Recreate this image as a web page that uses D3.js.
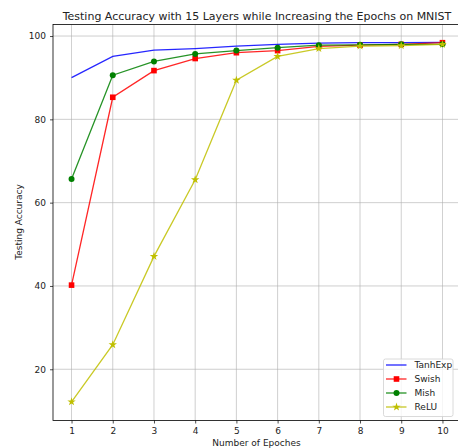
<!DOCTYPE html>
<html><head><meta charset="utf-8">
<script src="https://cdn.jsdelivr.net/npm/d3@7"></script>
<style>body{margin:0;background:#fff}svg{display:block;font-family:"DejaVu Sans",sans-serif}</style>
</head><body><svg id="c" width="458" height="448"></svg>
<script>
const epochs = [1,2,3,4,5,6,7,8,9,10];
const tanhExp = [90.0,95.1,96.6,97.0,97.6,98.0,98.3,98.4,98.4,98.5];
const swish   = [40.2,85.3,91.7,94.6,96.0,96.5,97.5,97.8,98.0,98.4];
const mish    = [65.7,90.6,93.9,95.7,96.5,97.2,97.8,97.9,98.0,98.0];
const relu    = [12.2,25.9,47.1,65.5,89.4,95.1,97.0,97.6,97.7,98.0];
const yTicks = [20,40,60,80,100];
const seriesNames = ["TanhExp","Swish","Mish","ReLU"];
const seriesColors = ["#0000ff","#ff0000","#008000","#bfbf00"];
const seriesMarkers = ["none","square","circle","star"];
const seriesData = [tanhExp, swish, mish, relu];

const svg = d3.select("#c");
const L = 53, R = 461, T = 24.5, B = 420.5;
const x = d3.scaleLinear().domain([0.55,10.45]).range([L,R]);
const y = d3.scaleLinear().domain([7.7,102.77]).range([B,T]);

function fitSize(str, target){
  const t = svg.append("text").attr("font-size",10).text(str);
  const w = t.node().getComputedTextLength();
  t.remove();
  return 10*target/w;
}
const TFS = fitSize("Testing Accuracy with 15 Layers while Increasing the Epochs on MNIST", 389);
const FS = fitSize("Number of Epoches", 88.4);

// grid
const g = svg.append("g");
g.selectAll(".vx").data(epochs).enter().append("line")
  .attr("x1",d=>x(d)).attr("x2",d=>x(d)).attr("y1",T).attr("y2",B)
  .attr("stroke","#b0b0b0").attr("stroke-width",0.8).attr("opacity",0.75);
g.selectAll(".hy").data(yTicks).enter().append("line")
  .attr("x1",L).attr("x2",R).attr("y1",d=>y(d)).attr("y2",d=>y(d))
  .attr("stroke","#b0b0b0").attr("stroke-width",0.8).attr("opacity",0.75);

// axes
const xa = svg.append("g").attr("transform",`translate(0,${B})`)
  .call(d3.axisBottom(x).tickValues(epochs).tickFormat(d3.format("d")).tickSize(3).tickPadding(4));
const ya = svg.append("g").attr("transform",`translate(${L},0)`)
  .call(d3.axisLeft(y).tickValues(yTicks).tickSize(3).tickPadding(4));
[xa,ya].forEach(a=>{
  a.select(".domain").remove();
  a.selectAll("line").attr("stroke","#000").attr("stroke-width",0.7);
  a.selectAll("text").attr("font-size",FS).attr("fill","#222").attr("font-family","DejaVu Sans");
});
// spines
svg.append("rect").attr("x",L).attr("y",T).attr("width",R-L).attr("height",B-T)
  .attr("fill","none").attr("stroke","#000").attr("stroke-width",0.8);

const line = d3.line().x((d,i)=>x(epochs[i])).y(d=>y(d));
const starPath = d3.symbol().type(d3.symbolStar).size(22)();
function drawMarker(sel, type, color){
  if(type==="square") sel.append("rect").attr("x",-2.8).attr("y",-2.8).attr("width",5.6).attr("height",5.6).attr("fill",color);
  else if(type==="circle") sel.append("circle").attr("r",3).attr("fill",color);
  else if(type==="star") sel.append("path").attr("d",starPath).attr("fill",color);
}
seriesData.forEach((vals,k)=>{
  svg.append("path").datum(vals).attr("d",line).attr("fill","none")
    .attr("stroke",seriesColors[k]).attr("stroke-width",1.3).attr("opacity",0.85);
  if(seriesMarkers[k]!=="none"){
    vals.forEach((v,i)=>{
      const m = svg.append("g").attr("transform",`translate(${x(epochs[i])},${y(v)})`);
      drawMarker(m, seriesMarkers[k], seriesColors[k]);
    });
  }
});

// title and labels
svg.append("text").attr("x",257).attr("y",19.5).attr("text-anchor","middle")
  .attr("font-size",TFS).attr("fill","#222").text("Testing Accuracy with 15 Layers while Increasing the Epochs on MNIST");
svg.append("text").attr("x",256.5).attr("y",445.5).attr("text-anchor","middle")
  .attr("font-size",FS).attr("fill","#222").text("Number of Epoches");
svg.append("text").attr("transform",`translate(22,222) rotate(-90)`).attr("text-anchor","middle")
  .attr("font-size",FS).attr("fill","#222").text("Testing Accuracy");

// legend
const lg = svg.append("g").attr("transform","translate(383.5,359)");
lg.append("rect").attr("x",0).attr("y",0).attr("width",69.5).attr("height",57.5).attr("rx",2)
  .attr("fill","#fff").attr("fill-opacity",0.8).attr("stroke","#d0d0d0").attr("stroke-width",0.8);
seriesNames.forEach((n,k)=>{
  const yy = 6 + k*14;
  lg.append("line").attr("x1",2.5).attr("x2",23).attr("y1",yy).attr("y2",yy)
    .attr("stroke",seriesColors[k]).attr("stroke-width",1.3).attr("opacity",0.85);
  if(seriesMarkers[k]!=="none"){
    const m = lg.append("g").attr("transform",`translate(13,${yy})`);
    drawMarker(m, seriesMarkers[k], seriesColors[k]);
  }
  lg.append("text").attr("x",31).attr("y",yy+3.2).attr("font-size",FS).attr("fill","#222").text(n);
});
</script></body></html>
